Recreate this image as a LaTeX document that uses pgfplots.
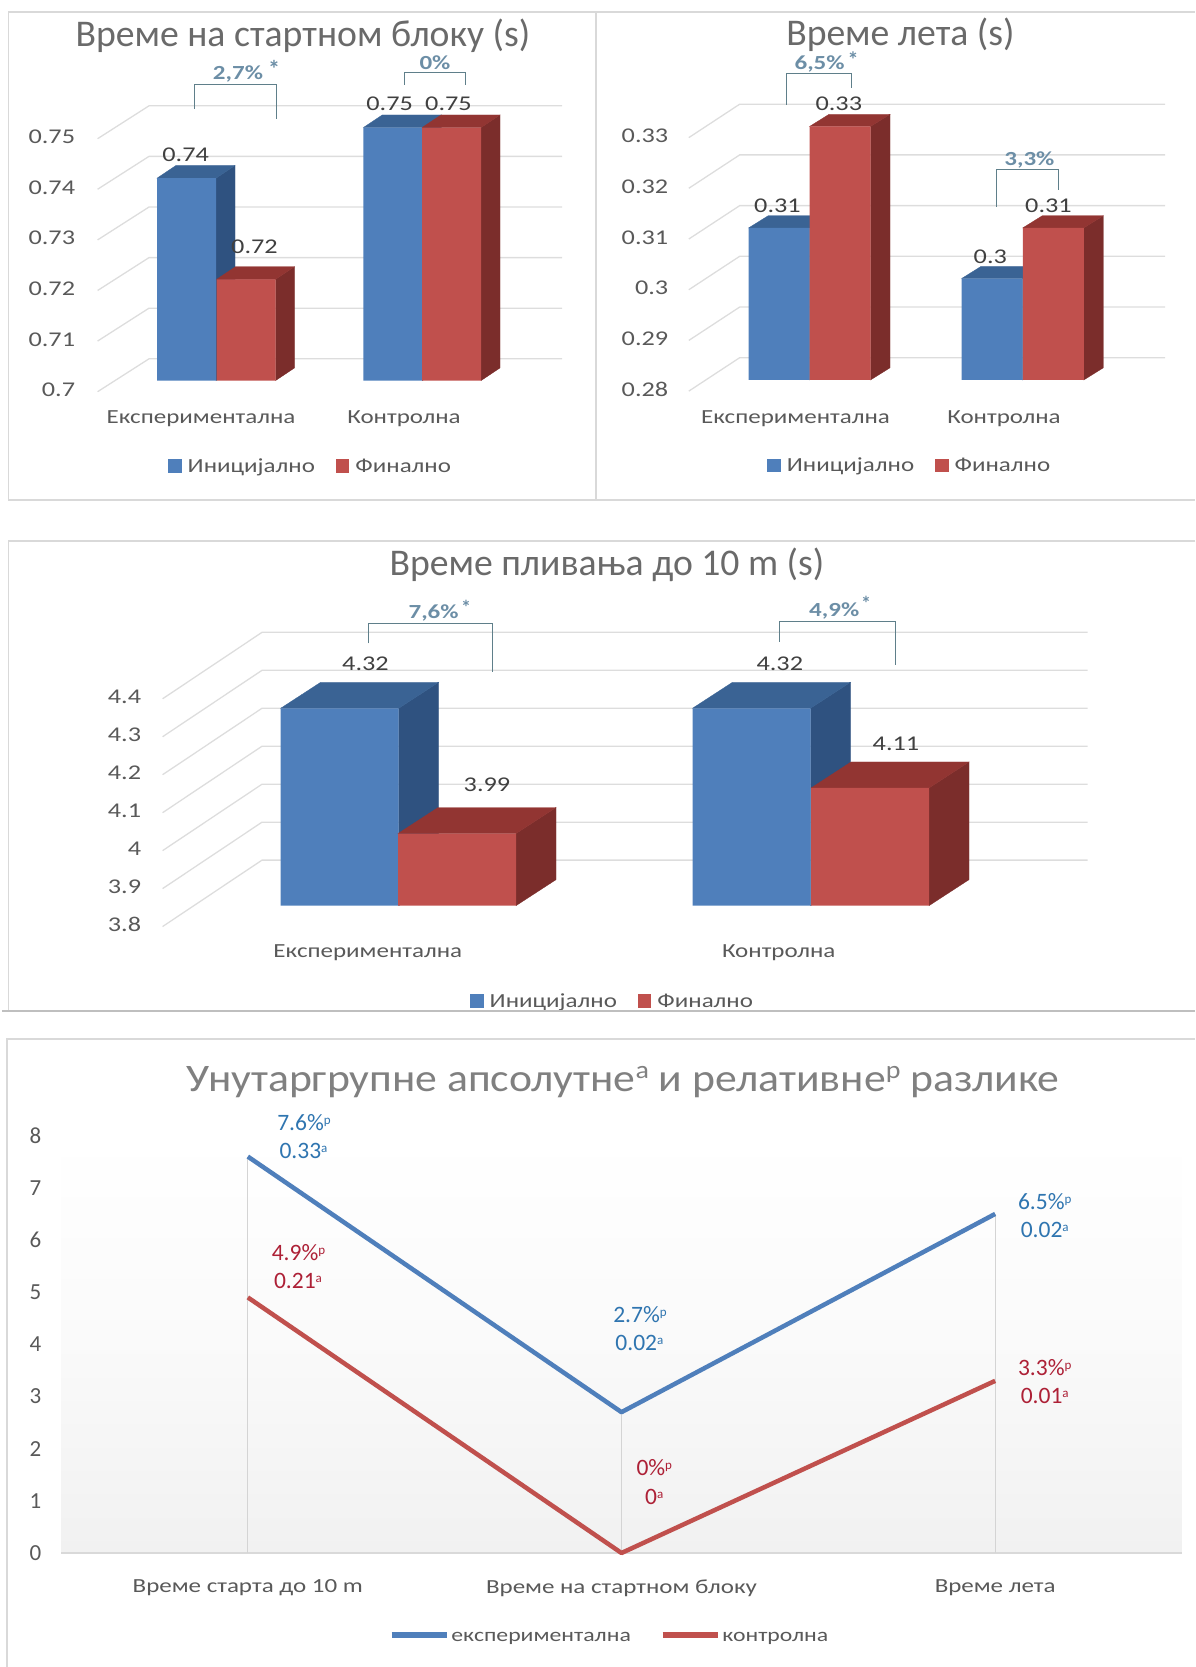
\documentclass[border=0pt]{standalone}
\usepackage{fontspec}
\usepackage{pgfplots}
\pgfplotsset{compat=1.18}
\setmainfont{Carlito}
\newfontfamily\wide[FakeStretch=1.25]{Carlito}
\newfontfamily\widet[FakeStretch=1.12]{Carlito}
\newcommand\fs[1]{\fontsize{#1}{#1}\selectfont}
\definecolor{bluef}{HTML}{4F7FBB}
\definecolor{bluet}{HTML}{3A6394}
\definecolor{blues}{HTML}{2F5280}
\definecolor{redf}{HTML}{C0504D}
\definecolor{redt}{HTML}{923532}
\definecolor{reds}{HTML}{7B2D2B}
\definecolor{gridc}{HTML}{DDDDDD}
\definecolor{framec}{HTML}{D9D9D9}
\definecolor{txt}{HTML}{595959}
\definecolor{dat}{HTML}{404040}
\definecolor{note}{HTML}{6C8EA6}
\definecolor{brk}{HTML}{5F7F8A}
\definecolor{tblue}{HTML}{2F75B0}
\definecolor{tred}{HTML}{AD2036}
% top and side faces of a bar: x0, x1, value, top colour, side colour
\newcommand\barfaces[5]{%
  \pgfmathsetmacro\xa{#2+\dx}\pgfmathsetmacro\xb{#1+\dx}\pgfmathsetmacro\yt{#3+\dy}\pgfmathsetmacro\yb{\base+\dy}%
  \addplot[fill=#5,draw=#5,line width=.3pt,forget plot] coordinates {(#2,\base) (\xa,\yb) (\xa,\yt) (#2,#3)} -- cycle;
  \addplot[fill=#4,draw=#4,line width=.3pt,forget plot] coordinates {(#1,#3) (#2,#3) (\xa,\yt) (\xb,\yt)} -- cycle;
}
% one gridline across floor and back wall: value, x front, x back, x end, front offset, back offset
\newcommand\wall[6]{%
  \pgfmathsetmacro\ya{#1+#5}\pgfmathsetmacro\yc{#1+#6}%
  \addplot[gridc,line width=1.3pt,forget plot] coordinates {(#2,\ya) (#3,\yc) (#4,\yc)};
}
\newcommand\lab[3]{\node[text=dat,font=\wide\fs{21}] at (#1,#2) {#3};}
\newcommand\pct[3]{\node[text=note,text depth=0pt,font=\wide\bfseries\fs{20}] at (#1,#2) {#3};}
\newcommand\aster[3]{\node[text=note,font=\bfseries\fs{#3}] at (#1,#2) {*};}
\newcommand\sups[1]{\raisebox{.55ex}{\fs{13}#1}}
\newcommand\dl[4]{\node[text=#1,font=\fs{23.5}] at (#2,#3) {#4};}
\pgfplotsset{
  barpanel/.style={
    scale only axis, clip=false, no markers,
    axis line style={draw=none}, tick style={draw=none},
    ymajorgrids=false,
    y tick label style={text=txt,font=\wide\fs{21}},
    x tick label style={text=txt,font=\wide\fs{20}},
    legend style={draw=none,fill=none,inner sep=0pt,legend columns=2,
      font=\wide\fs{20},text=txt,
      /tikz/every even column/.append style={column sep=19pt},
      /tikz/every odd column/.append style={column sep=4pt}},
    legend image code/.code={\fill[##1,draw=none] (0pt,-6.5pt) rectangle (13.5pt,7pt);},
  }
}
\begin{document}
\begin{tikzpicture}[x=1pt,y=1pt]
\useasboundingbox (0,0) rectangle (1195pt,1667pt);

% --- start block time
\begin{axis}[barpanel,at={(97.6pt,1286.4pt)},anchor=south west,width=464.4pt,height=253pt,
  xmin=97.6,xmax=562,ymin=0.70,ymax=0.75,
  ytick={0.70,0.71,0.72,0.73,0.74,0.75},yticklabels={0.7,0.71,0.72,0.73,0.74,0.75},
  y tick label style={yshift=-9.4pt,xshift=-19pt},
  xtick={201,404},xticklabels={Експериментална,Контролна},
  x tick label style={yshift=-27pt},
  legend style={at={(axis cs:168,0.6831)},anchor=west}]
\def\base{0.70}\def\dx{19}\def\dy{0.0025}
\wall{0.70}{97.6}{149}{562}{-0.0022}{0.0043}
\wall{0.71}{97.6}{149}{562}{-0.0022}{0.0043}
\wall{0.72}{97.6}{149}{562}{-0.0022}{0.0043}
\wall{0.73}{97.6}{149}{562}{-0.0022}{0.0043}
\wall{0.74}{97.6}{149}{562}{-0.0022}{0.0043}
\wall{0.75}{97.6}{149}{562}{-0.0022}{0.0043}
\barfaces{157}{216}{0.74}{bluet}{blues}
\barfaces{363.3}{422.3}{0.75}{bluet}{blues}
\addplot[ybar,bar width=59pt,bar shift=0pt,fill=bluef,draw=none] coordinates {(186.5,0.74) (392.8,0.75)};
\addlegendentry{Иницијално}
\barfaces{216.5}{275.5}{0.72}{redt}{reds}
\barfaces{422}{481}{0.75}{redt}{reds}
\addplot[ybar,bar width=59pt,bar shift=0pt,fill=redf,draw=none] coordinates {(246,0.72) (451.5,0.75)};
\addlegendentry{Финално}
\end{axis}

% --- flight time
\begin{axis}[barpanel,at={(688.8pt,1287pt)},anchor=south west,width=476.4pt,height=253.5pt,
  xmin=688.8,xmax=1165.2,ymin=0.28,ymax=0.33,
  ytick={0.28,0.29,0.30,0.31,0.32,0.33},yticklabels={0.28,0.29,0.3,0.31,0.32,0.33},
  y tick label style={yshift=-9.4pt,xshift=-17pt},
  xtick={795.5,1004},xticklabels={Експериментална,Контролна},
  x tick label style={yshift=-27pt},
  legend style={at={(axis cs:767.2,0.2631)},anchor=west}]
\def\base{0.28}\def\dx{19.5}\def\dy{0.0024}
\wall{0.28}{688.8}{739.7}{1165.2}{-0.0022}{0.0044}
\wall{0.29}{688.8}{739.7}{1165.2}{-0.0022}{0.0044}
\wall{0.30}{688.8}{739.7}{1165.2}{-0.0022}{0.0044}
\wall{0.31}{688.8}{739.7}{1165.2}{-0.0022}{0.0044}
\wall{0.32}{688.8}{739.7}{1165.2}{-0.0022}{0.0044}
\wall{0.33}{688.8}{739.7}{1165.2}{-0.0022}{0.0044}
\barfaces{748.7}{809.7}{0.31}{bluet}{blues}
\barfaces{961.5}{1022.5}{0.30}{bluet}{blues}
\addplot[ybar,bar width=61pt,bar shift=0pt,fill=bluef,draw=none] coordinates {(779.2,0.31) (992,0.30)};
\addlegendentry{Иницијално}
\barfaces{809.5}{870.5}{0.33}{redt}{reds}
\barfaces{1022.8}{1083.8}{0.31}{redt}{reds}
\addplot[ybar,bar width=61pt,bar shift=0pt,fill=redf,draw=none] coordinates {(840,0.33) (1053.3,0.31)};
\addlegendentry{Финално}
\end{axis}

% --- swim time to 10 m
\begin{axis}[barpanel,at={(162.6pt,761.3pt)},anchor=south west,width=924.9pt,height=227.8pt,
  xmin=162.6,xmax=1087.5,ymin=3.8,ymax=4.4,
  ytick={3.8,3.9,4.0,4.1,4.2,4.3,4.4},yticklabels={3.8,3.9,4,4.1,4.2,4.3,4.4},
  y tick label style={yshift=-19pt,xshift=-18pt},
  xtick={367.8,778.7},xticklabels={Експериментална,Контролна},
  x tick label style={yshift=-35.5pt},
  legend style={at={(axis cs:470,3.548)},anchor=west}]
\def\base{3.8}\def\dx{40}\def\dy{0.0685}
\wall{3.8}{162.6}{262}{1087.5}{-0.055}{0.12}
\wall{3.9}{162.6}{262}{1087.5}{-0.055}{0.12}
\wall{4.0}{162.6}{262}{1087.5}{-0.055}{0.12}
\wall{4.1}{162.6}{262}{1087.5}{-0.055}{0.12}
\wall{4.2}{162.6}{262}{1087.5}{-0.055}{0.12}
\wall{4.3}{162.6}{262}{1087.5}{-0.055}{0.12}
\wall{4.4}{162.6}{262}{1087.5}{-0.055}{0.12}
\barfaces{280.7}{398.7}{4.32}{bluet}{blues}
\barfaces{692.5}{810.5}{4.32}{bluet}{blues}
\addplot[ybar,bar width=118pt,bar shift=0pt,fill=bluef,draw=none] coordinates {(339.7,4.32) (751.5,4.32)};
\addlegendentry{Иницијално}
\barfaces{398}{516}{3.99}{redt}{reds}
\barfaces{811}{929}{4.11}{redt}{reds}
\addplot[ybar,bar width=118pt,bar shift=0pt,fill=redf,draw=none] coordinates {(457,3.99) (870,4.11)};
\addlegendentry{Финално}
\end{axis}

% --- within-group differences
\begin{axis}[scale only axis,clip=false,no markers,at={(61pt,114pt)},anchor=south west,width=1121pt,height=417.3pt,
  xmin=-0.5,xmax=2.5,ymin=0,ymax=8,
  axis background/.style={shade,top color=white,bottom color=black!5.5,middle color=black!2},
  axis x line=bottom,axis y line=left,axis line style={draw=framec,line width=1.5pt,-},
  tick style={draw=none},
  y axis line style={draw=none},
  xtick={0,1,2},xticklabels={Време старта до 10 m,Време на стартном блоку,Време лета},
  ytick={0,1,2,3,4,5,6,7,8},
  x tick label style={text=txt,font=\wide\fs{20},yshift=-21pt},
  y tick label style={text=txt,font=\fs{23},xshift=-14pt},
  /pgf/number format/assume math mode=true,
  legend style={draw=none,fill=none,inner sep=0pt,at={(axis cs:0.377,-1.62)},anchor=west,legend columns=2,
    font=\wide\fs{19},text=txt,/tikz/every even column/.append style={column sep=27pt}},
  legend image code/.code={\draw[#1,line width=5.5pt] (0pt,2.5pt) -- (55pt,2.5pt);}]
\addplot[black!17,line width=1.3pt,forget plot] coordinates {(0,0) (0,7.6)};
\addplot[black!17,line width=1.3pt,forget plot] coordinates {(1,0) (1,2.7)};
\addplot[black!17,line width=1.3pt,forget plot] coordinates {(2,0) (2,6.5)};
\addplot[color=bluef,line width=4.5pt,line join=round] coordinates {(0,7.6) (1,2.7) (2,6.5)};
\addlegendentry{експериментална}
\addplot[color=redf,line width=4.5pt,line join=round] coordinates {(0,4.9) (1,0) (2,3.3)};
\addlegendentry{контролна}
\end{axis}

% --- frames, titles, value labels and difference brackets, in page pixels
\begin{scope}[x=1pt,y=-1pt,yshift=1667pt]
\draw[framec,line width=1.4pt] (8.4,12) rectangle (596,500);
\draw[framec,line width=1.4pt] (596,12) -- (1195,12) (596,500) -- (1195,500);
\draw[framec,line width=1.4pt] (1195,541) -- (8.4,541) -- (8.4,1011);
\draw[black!25,line width=1.8pt] (2,1011) -- (1195,1011);
\draw[framec,line width=1.2pt] (1195,1039) -- (7,1039) -- (7,1667);

\node[text=txt!90,font=\fs{37.7}] at (303,36) {Време на стартном блоку (s)};
\node[text=txt!90,font=\fs{37.7}] at (900.4,35) {Време лета (s)};
\node[text=txt!90,font=\fs{37.7}] at (607,565) {Време пливања до 10 m (s)};
\node[text=black!50,font=\widet\fs{39}] at (623,1082) {Унутаргрупне апсолутне\raisebox{.7ex}{\fs{25}a} и релативне\raisebox{.7ex}{\fs{25}p} разлике};

\lab{185.6}{155}{0.74}\lab{254.5}{247}{0.72}\lab{389.6}{104}{0.75}\lab{448.5}{104}{0.75}
\lab{777.5}{206}{0.31}\lab{838.8}{103.3}{0.33}\lab{990.3}{256.7}{0.3}\lab{1048.5}{205.7}{0.31}
\lab{365.5}{664}{4.32}\lab{487}{784.3}{3.99}\lab{779.8}{664}{4.32}\lab{896}{744.3}{4.11}

\draw[brk,line width=1pt] (194.4,109) -- (194.4,84.3) -- (276.3,84.3) -- (276.3,119);
\draw[brk,line width=1pt] (404.5,85) -- (404.5,73) -- (465.7,73) -- (465.7,85);
\pct{238}{73}{2,7\%}\aster{274}{69}{24}\pct{435}{63}{0\%}
\draw[brk,line width=1pt] (786.4,105) -- (786.4,73.3) -- (851.8,73.3) -- (851.8,88.3);
\draw[brk,line width=1pt] (996.8,206.7) -- (996.8,170) -- (1058.8,170) -- (1058.8,190);
\pct{819.6}{62.5}{6,5\%}\aster{853.2}{60}{22}\pct{1029.4}{158.3}{3,3\%}
\draw[brk,line width=1pt] (368,643.3) -- (368,624) -- (492.5,624) -- (492.5,671.7);
\draw[brk,line width=1pt] (779,641.7) -- (779,621.7) -- (895.8,621.7) -- (895.8,665);
\pct{433.6}{611.7}{7,6\%}\aster{466}{607}{20}\pct{834.2}{610}{4,9\%}\aster{866}{603}{20}

\dl{tblue}{304}{1122.7}{7.6\%\sups{p}}\dl{tblue}{303.5}{1151}{0.33\sups{a}}
\dl{tred}{298.5}{1252.4}{4.9\%\sups{p}}\dl{tred}{298}{1281}{0.21\sups{a}}
\dl{tblue}{640}{1314.6}{2.7\%\sups{p}}\dl{tblue}{639.4}{1343}{0.02\sups{a}}
\dl{tred}{654.3}{1468}{0\%\sups{p}}\dl{tred}{654.3}{1496.7}{0\sups{a}}
\dl{tblue}{1044.7}{1201.5}{6.5\%\sups{p}}\dl{tblue}{1044.7}{1230}{0.02\sups{a}}
\dl{tred}{1044.7}{1367.4}{3.3\%\sups{p}}\dl{tred}{1044.7}{1395.9}{0.01\sups{a}}
\end{scope}
\end{tikzpicture}
\end{document}
